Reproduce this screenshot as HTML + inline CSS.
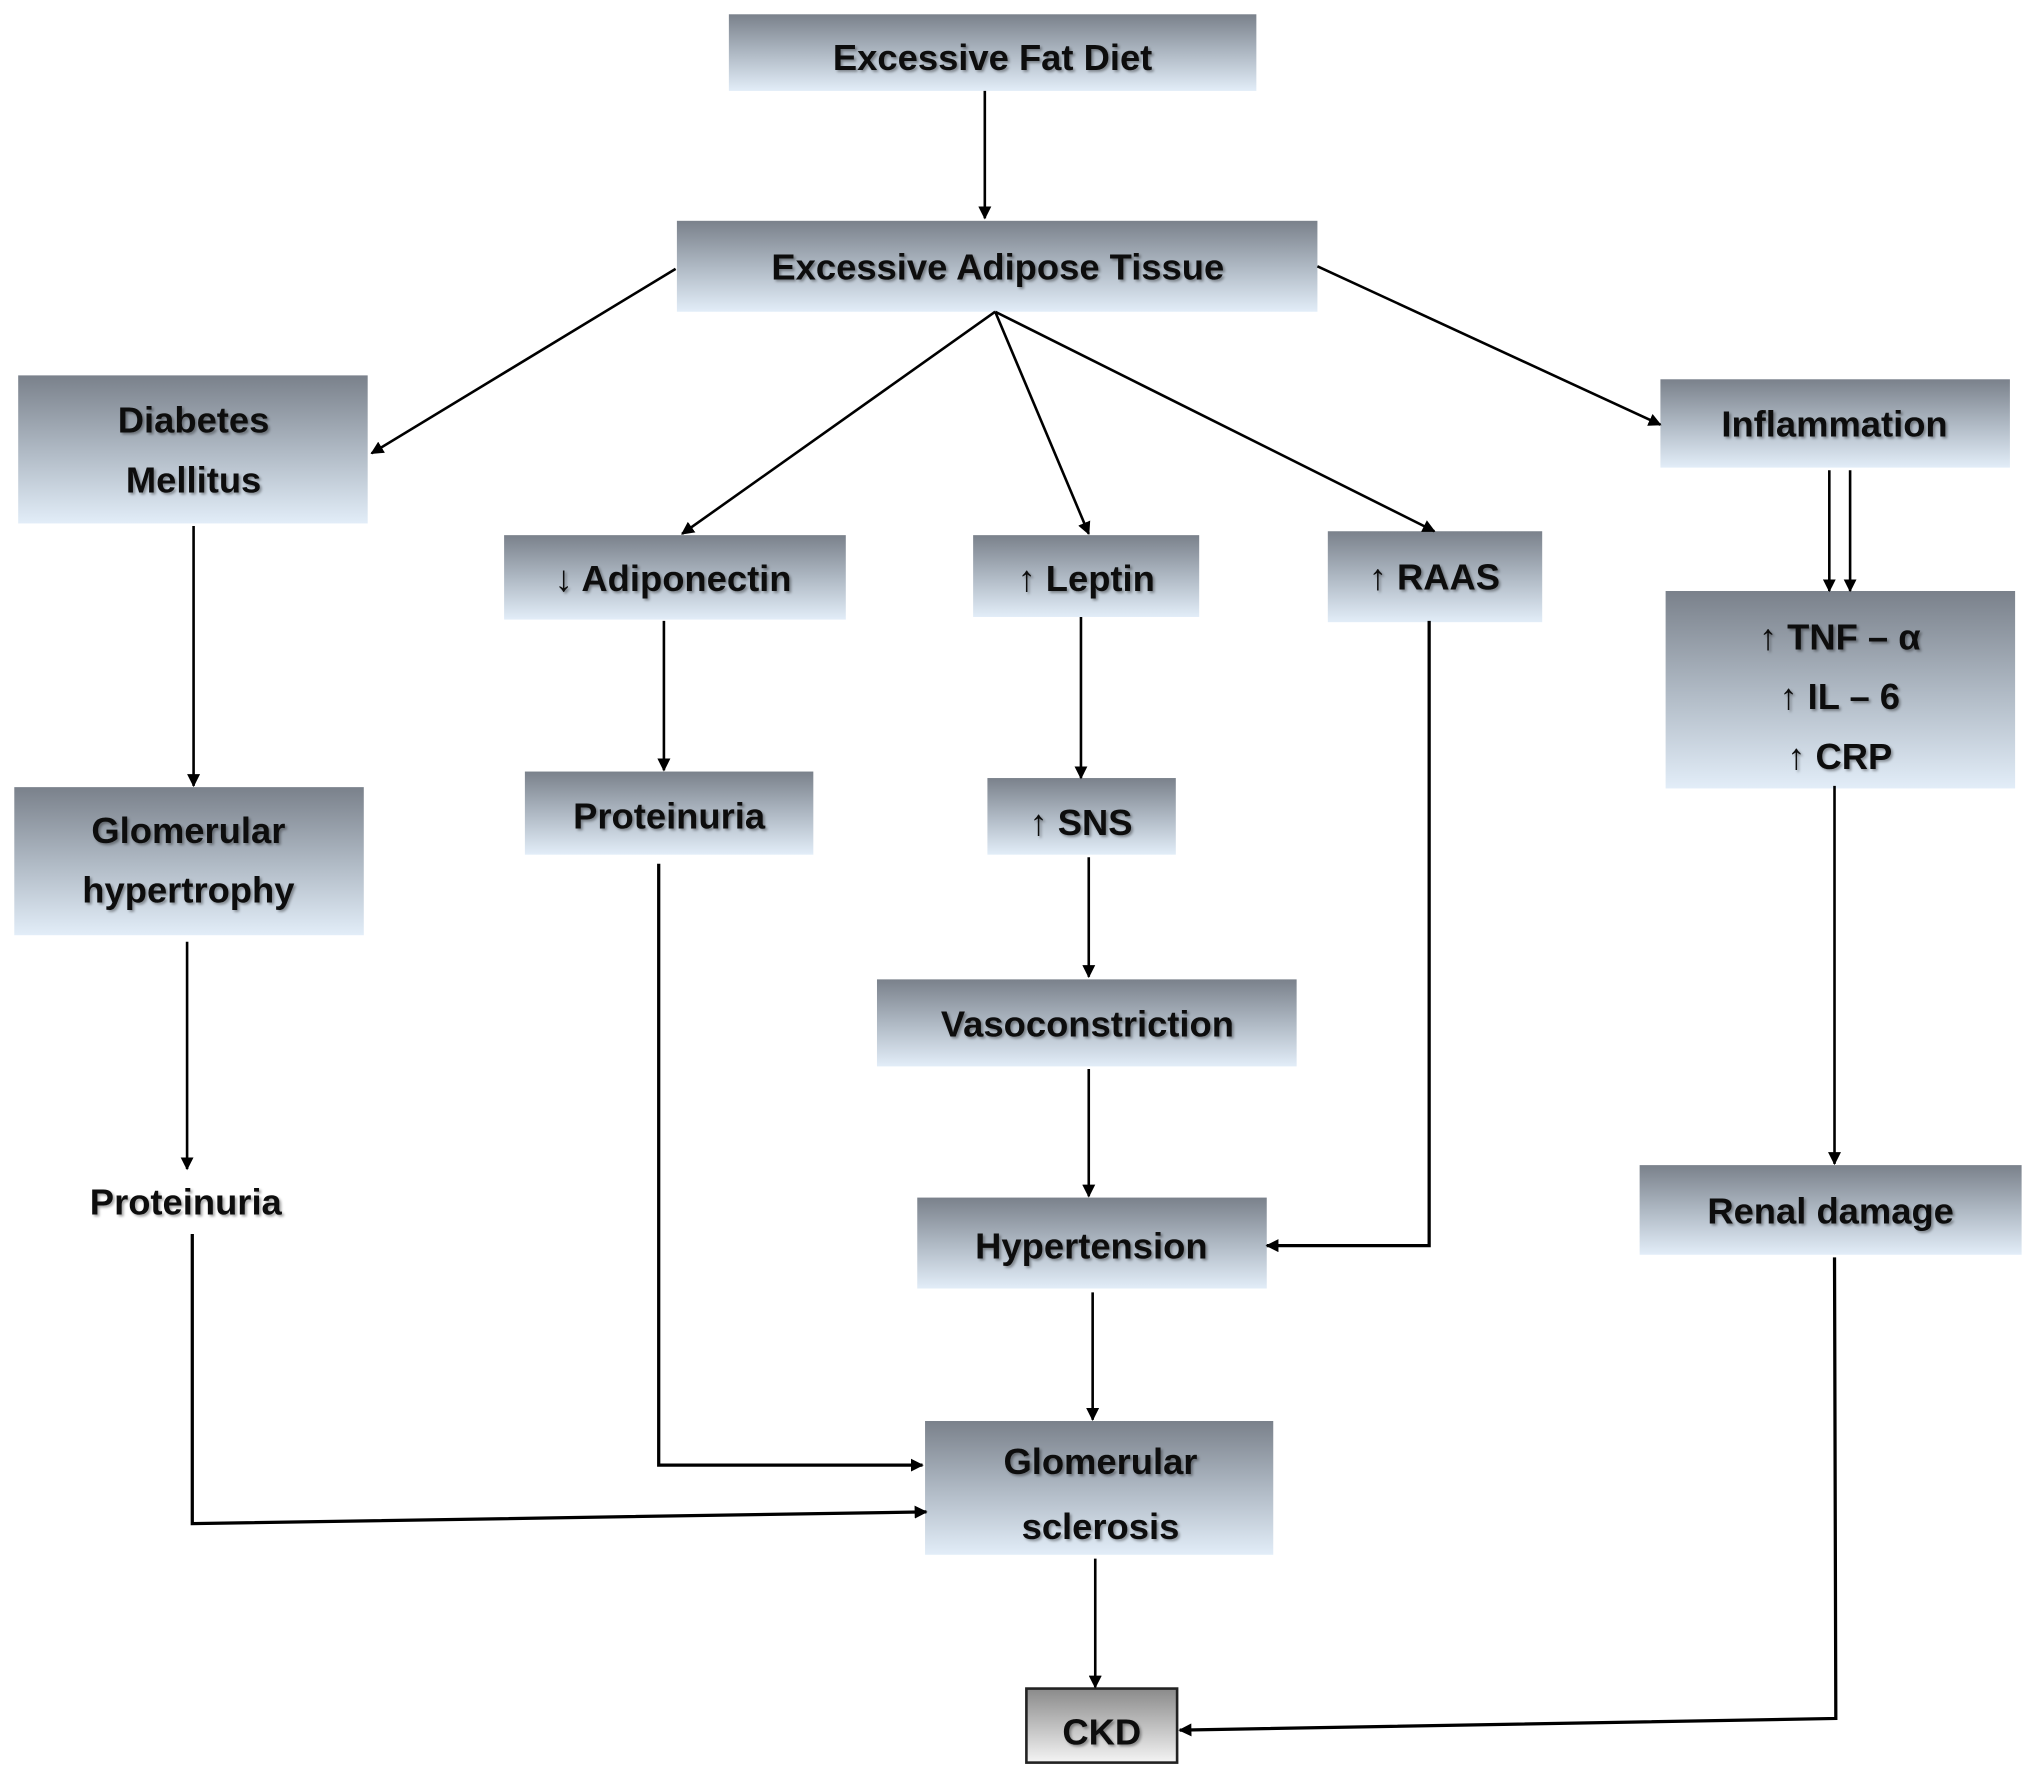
<!DOCTYPE html>
<html><head><meta charset="utf-8"><style>
html,body{margin:0;padding:0;background:#fff;}
svg{display:block;}
text{font-family:"Liberation Sans",sans-serif;font-weight:bold;font-size:28px;fill:#111;text-anchor:middle;}
</style></head><body>
<svg width="2032" height="1773" viewBox="0 0 1564 1365" preserveAspectRatio="none" xmlns="http://www.w3.org/2000/svg">
<defs>
<linearGradient id="g" x1="0" y1="0" x2="0" y2="1">
<stop offset="0" stop-color="#7a818b"/><stop offset="0.5" stop-color="#aeb8c3"/><stop offset="1" stop-color="#e2edf8"/>
</linearGradient>
<linearGradient id="c" x1="0" y1="0" x2="0" y2="1">
<stop offset="0" stop-color="#8a8a8a"/><stop offset="1" stop-color="#f4f4f4"/>
</linearGradient>
<marker id="a" markerWidth="10" markerHeight="10" refX="9" refY="5" orient="auto" markerUnits="userSpaceOnUse">
<path d="M0,0 L10,5 L0,10 Z" fill="#000"/></marker>
<filter id="s" x="-5%" y="-5%" width="110%" height="120%"><feDropShadow dx="1.5" dy="1.5" stdDeviation="1" flood-color="#000" flood-opacity="0.35"/></filter>
</defs>
<g fill="url(#g)">
<rect x="561" y="11" width="406" height="59"/>
<rect x="521" y="170" width="493" height="70"/>
<rect x="14" y="289" width="269" height="114"/>
<rect x="1278" y="292" width="269" height="68"/>
<rect x="388" y="412" width="263" height="65"/>
<rect x="749" y="412" width="174" height="63"/>
<rect x="1022" y="409" width="165" height="70"/>
<rect x="1282" y="455" width="269" height="152"/>
<rect x="11" y="606" width="269" height="114"/>
<rect x="404" y="594" width="222" height="64"/>
<rect x="760" y="599" width="145" height="59"/>
<rect x="675" y="754" width="323" height="67"/>
<rect x="706" y="922" width="269" height="70"/>
<rect x="1262" y="897" width="294" height="69"/>
<rect x="712" y="1094" width="268" height="103"/>
</g>
<rect x="790" y="1300" width="116" height="57" fill="url(#c)" stroke="#222" stroke-width="2"/>
<g filter="url(#s)">
<text x="764" y="54">Excessive Fat Diet</text>
<text x="768" y="215">Excessive Adipose Tissue</text>
<text x="149" y="333">Diabetes</text>
<text x="149" y="379">Mellitus</text>
<text x="1412" y="336">Inflammation</text>
<text x="518" y="455">↓ Adiponectin</text>
<text x="836" y="455">↑ Leptin</text>
<text x="1104" y="454">↑ RAAS</text>
<text x="1416" y="500">↑ TNF – α</text>
<text x="1416" y="546">↑ IL – 6</text>
<text x="1416" y="592">↑ CRP</text>
<text x="145" y="649">Glomerular</text>
<text x="145" y="695">hypertrophy</text>
<text x="515" y="638">Proteinuria</text>
<text x="832" y="643">↑ SNS</text>
<text x="837" y="798">Vasoconstriction</text>
<text x="840" y="969">Hypertension</text>
<text x="1409" y="942">Renal damage</text>
<text x="143" y="935">Proteinuria</text>
<text x="847" y="1135">Glomerular</text>
<text x="847" y="1185">sclerosis</text>
<text x="848" y="1343">CKD</text>
</g>
<g stroke="#000" stroke-width="2" fill="none" marker-end="url(#a)">
<path d="M758,70 L758,168"/>
<path d="M520,207 L286,349"/>
<path d="M766,240 L525,411"/>
<path d="M766,240 L838,411"/>
<path d="M766,240 L1104,409"/>
<path d="M1014,205 L1278,327"/>
<path d="M1408,362 L1408,455"/>
<path d="M1424,362 L1424,455"/>
<path d="M149,405 L149,605"/>
<path d="M511,478 L511,593"/>
<path d="M832,475 L832,599"/>
<path d="M838,660 L838,752"/>
<path d="M838,823 L838,921"/>
<path d="M1100,478 L1100,959 L975,959" stroke-width="2.5"/>
<path d="M144,725 L144,900"/>
<path d="M1412,605 L1412,896"/>
<path d="M841,995 L841,1093"/>
<path d="M507,665 L507,1128 L710,1128" stroke-width="2.5"/>
<path d="M148,950 L148,1173 L713,1164" stroke-width="2.5"/>
<path d="M843,1200 L843,1299"/>
<path d="M1412,968 L1413,1323 L908,1332" stroke-width="2.5"/>
</g>
</svg>
</body></html>
